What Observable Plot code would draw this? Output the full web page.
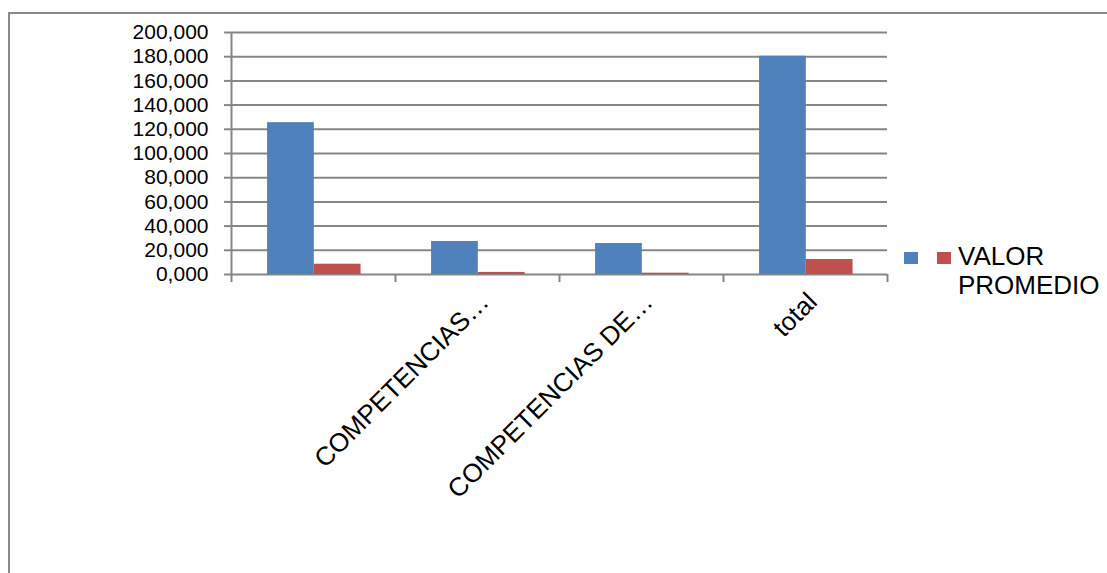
<!DOCTYPE html>
<html>
<head>
<meta charset="utf-8">
<script src="https://cdn.jsdelivr.net/npm/d3@7"></script>
<script src="https://cdn.jsdelivr.net/npm/@observablehq/plot@0.6"></script>
<style>
  html, body { margin: 0; padding: 0; background: #fff; overflow: hidden; }
  body { width: 1107px; height: 573px; position: relative; font-family: "Liberation Sans", Arial, sans-serif; }
  #frame { position: absolute; left: 8px; top: 12px; width: 1300px; height: 800px; border: 2px solid #898989; box-sizing: border-box; }
  #chart { position: absolute; left: 0; top: 0; }
  #legend { position: absolute; left: 904px; top: 242px; font-size: 26px; line-height: 29px; color: #000; }
  .item { position: absolute; white-space: nowrap; }
  .sw { position: absolute; width: 14px; height: 12px; }
</style>
</head>
<body>
<div id="frame"></div>
<div id="chart"></div>
<div id="legend"></div>
<script>
// ---- data ----
const categories = ["", "COMPETENCIAS…", "COMPETENCIAS DE…", "total"];
const seriesNames = ["", "VALOR PROMEDIO"];
const seriesColors = ["#4F81BD", "#C0504D"];
const seriesA = [125.5, 27.3, 25.6, 180.4];
const seriesB = [8.5, 1.7, 1.1, 12.4];
const yTicks = [0, 20, 40, 60, 80, 100, 120, 140, 160, 180, 200];

// ---- build rows ----
const seriesValues = [seriesA, seriesB];
const rows = [];
seriesValues.forEach((vals, s) => {
  vals.forEach((v, i) => rows.push({cat: categories[i], i, s, value: v}));
});

const grid = "#868686";
const barStart = 0.22, barWidth = 0.285;
const fmt = d => d.toFixed(3).replace(".", ",");

const chart = Plot.plot({
  width: 1107,
  height: 573,
  marginLeft: 231,
  marginRight: 220,
  marginTop: 32,
  marginBottom: 299,
  style: {fontFamily: "'Liberation Sans', Arial, sans-serif", background: "transparent", overflow: "visible"},
  x: {domain: [0, categories.length], axis: null},
  y: {domain: [0, 200], axis: null},
  marks: [
    Plot.ruleY(yTicks, {stroke: grid, strokeWidth: 2}),
    Plot.ruleX([0], {stroke: grid, strokeWidth: 2}),
    Plot.axisY(yTicks, {label: null, tickSize: 7, tickPadding: 16, tickFormat: fmt, fontSize: 21, letterSpacing: 2.2, stroke: grid, strokeWidth: 2, fill: "#000"}),
    Plot.axisX(d3.range(categories.length + 1), {label: null, tickSize: 8, tickFormat: () => "", stroke: grid, strokeWidth: 2}),
    Plot.rectY(rows, {
      x1: d => d.i + barStart + d.s * barWidth,
      x2: d => d.i + barStart + (d.s + 1) * barWidth,
      y1: 0,
      y2: "value",
      fill: d => seriesColors[d.s]
    }),
    Plot.text(categories, {
      x: (d, i) => i + 0.5,
      y: 0,
      text: d => d,
      rotate: -45,
      textAnchor: "end",
      lineAnchor: "bottom",
      dx: 13,
      dy: 29,
      fontSize: 26,
      fill: "#000"
    })
  ]
});
document.getElementById("chart").appendChild(chart);

// ---- legend ----
const legend = d3.select("#legend");
seriesNames.forEach((name, s) => {
  legend.append("div").attr("class", "sw")
    .style("left", (s * 33) + "px").style("top", "10px")
    .style("background", seriesColors[s]);
});
legend.append("div").attr("class", "item")
  .style("left", "54px").style("top", "0px")
  .html(seriesNames[1].split(" ").join("<br>"));
</script>
</body>
</html>
